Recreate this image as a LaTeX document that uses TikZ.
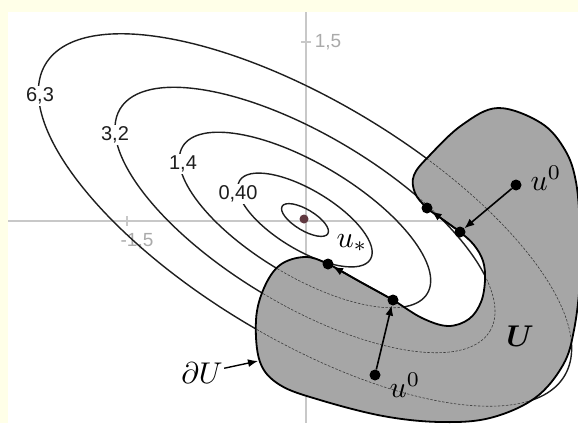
\documentclass[tikz,border=0pt]{standalone}
\usepackage{fontspec}
\usepackage{bm}
\newfontfamily\lab{Liberation Sans}
\usetikzlibrary{arrows.meta}
\definecolor{bgyel}{RGB}{255,255,232}
\definecolor{ugray}{RGB}{166,166,166}
\definecolor{axgray}{RGB}{200,200,200}
\definecolor{axtext}{RGB}{170,170,170}
\definecolor{cline}{RGB}{30,30,30}
\definecolor{cdash}{RGB}{60,60,60}
\definecolor{cmin}{RGB}{96,56,64}
\begin{document}
\begin{tikzpicture}[x=1pt,y=-1pt,
  cont/.style={draw=cline, line width=1.4pt},
  incont/.style={draw=cdash, line width=0.6pt, dash pattern=on 2.5pt off 1.5pt},
  bnd/.style={draw=black, line width=1.8pt},
  dot/.style={circle, fill=black, inner sep=0pt, minimum size=11pt},
  arr/.style={line width=1.6pt, -{Latex[length=10pt,width=8pt]}},
  clab/.style={fill=white, inner sep=1.5pt, font=\lab\fontsize{20}{20}\selectfont, text=cline},
  alab/.style={font=\lab\fontsize{19}{19}\selectfont, text=axtext, inner sep=0pt},
  mlab/.style={font=\normalsize, inner sep=0.3pt, scale=3}]
\useasboundingbox (0,0) rectangle (578,423);
\fill[bgyel] (0,0) rectangle (578,423);
\fill[white] (8,12) rectangle (578,423);
% axes
\coordinate (C) at (305,220);
\draw[axgray, line width=2pt] (8,221) -- (578,221);
\draw[axgray, line width=2pt] (306,12) -- (306,423);
\draw[axgray, line width=1.2pt] (127,216) -- (127,226);
\draw[axgray, line width=1.2pt] (301,42) -- (311,42);
\node[alab] (xl) at (137,241) {-1,5};
\node[alab] (yl) at (328,42) {1,5};
% contours
\foreach \k in {1,0.7127,0.4714,0.2520,0.088}
  \draw[cont, rotate around={-31:(C)}] (C) ellipse [x radius={302.7pt*\k}, y radius={118.8pt*\k}];
\node[clab] (l63) at (40,96) {6,3};
\node[clab] (l32) at (115,135) {3,2};
\node[clab] (l14) at (183,164) {1,4};
\node[clab] (l040) at (238,194) {0,40};
\fill[cmin] (304,219) circle (4.5pt);
% region U
\coordinate (pS) at (328,264);
\coordinate (pA) at (393,300);
\coordinate (pB) at (460,232);
\coordinate (pC) at (427,208);
\def\regionU{plot[smooth cycle, tension=0.6] coordinates {
 (498,108) (541,123) (565,150) (576,182) (580,230) (580,280) (574,330)
 (563,365) (535,398) (490,418) (440,422) (383,416) (320,400) (280,385)
 (260,362) (256,320) (264,288) (280,265) (305,257) (pS) (360.5,282)
 (pA) (422,318) (448,326) (469,319) (481,302) (485,280) (483,261) (474,245) (pB)
 (443.5,220) (pC) (415,193) (414,175) (430,155) (462,125)}}
\fill[ugray] \regionU;
\begin{scope}
  \clip \regionU;
  \foreach \k in {1,0.7127,0.4714,0.2520}
    \draw[incont, rotate around={-31:(C)}] (C) ellipse [x radius={302.7pt*\k}, y radius={118.8pt*\k}];
\end{scope}
\draw[bnd] \regionU;
% points and arrows
\node[dot] (ustar) at (pS) {};
\node[dot] (dA) at (pA) {};
\node[dot] (dB) at (pB) {};
\node[dot] (dC) at (pC) {};
\node[dot] (u0a) at (375,375) {};
\node[dot] (u0b) at (516,185) {};
\draw[arr] (u0a) -- (dA);
\draw[arr] (dA) -- (ustar);
\draw[arr] (u0b) -- (dB);
\draw[arr] (dB) -- (dC);
\node[mlab] (lus) at (352,243) {$u_*$};
\node[mlab] (lu0a) at (405,385) {$u^0$};
\node[mlab] (lu0b) at (546,178) {$u^0$};
\node[mlab] (lU) at (520,336) {$\bm{U}$};
\node[mlab] (ldU) at (202,373) {$\partial U$};
\coordinate (dUt) at (258,361);
\draw[arr, line width=1.4pt] (ldU) -- (dUt);
\end{tikzpicture}
\end{document}
